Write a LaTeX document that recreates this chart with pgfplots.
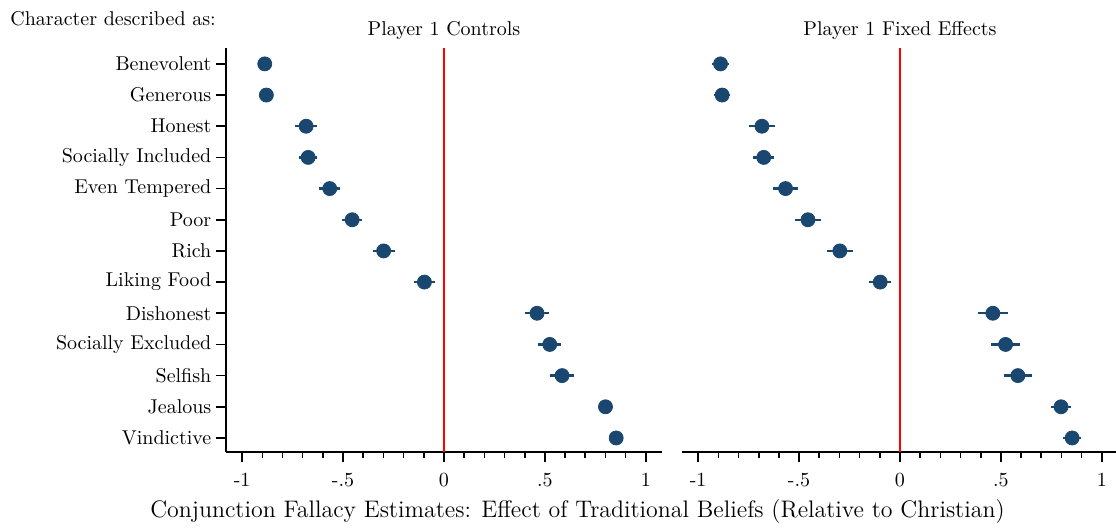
\documentclass[border=0pt]{standalone}
\usepackage{pgfplots}
\pgfplotsset{compat=1.18}
\usepackage{pgfplotstable}
\definecolor{stnavy}{RGB}{26,71,111}

\pgfplotstableread{
y x e
13 -0.888 0.025
12 -0.880 0.025
11 -0.683 0.055
10 -0.673 0.043
9 -0.566 0.052
8 -0.455 0.050
7 -0.299 0.055
6 -0.097 0.050
5 0.461 0.060
4 0.524 0.056
3 0.585 0.058
2 0.800 0.035
1 0.853 0.030
}\leftdata

\pgfplotstableread{
y x e
13 -0.889 0.040
12 -0.881 0.040
11 -0.684 0.066
10 -0.675 0.052
9 -0.567 0.063
8 -0.456 0.063
7 -0.298 0.066
6 -0.098 0.055
5 0.460 0.074
4 0.523 0.070
3 0.584 0.070
2 0.798 0.048
1 0.853 0.044
}\rightdata

\pgfplotsset{
  panel/.style={
    scale only axis,
    width=218pt, height=202pt,
    xmin=-1.08, xmax=1.08,
    ymin=0.55, ymax=13.51,
    axis x line*=bottom,
    axis line style={line width=0.8pt, black},
    xtick={-1,-0.5,0,0.5,1},
    xticklabels={-1,-.5,0,.5,1},
    minor x tick num=4,
    tick align=outside,
    major tick length=5pt,
    minor tick length=2.8pt,
    every tick/.style={black, line width=0.8pt},
    xticklabel style={yshift=-2pt},
    yticklabel style={xshift=1.2pt},
    clip=false,
  },
  ci/.style={only marks, mark=*, mark size=3.5pt, stnavy,
    mark options={fill=stnavy, draw=stnavy},
    error bars/.cd, x dir=both, x explicit,
    error bar style={line width=1.2pt, stnavy}, error mark=none},
}

\begin{document}
\begin{tikzpicture}
\useasboundingbox (-113pt,-37.75pt) rectangle (445pt,226pt);
\begin{axis}[panel, at={(0pt,0pt)},
  axis y line*=left,
  ytick={1,...,13},
  yticklabels={Vindictive,Jealous,Selfish,Socially Excluded,Dishonest,Liking Food,Rich,Poor,Even Tempered,Socially Included,Honest,Generous,Benevolent},
]
\addplot[red, line width=0.7pt] coordinates {(0,0.55) (0,13.51)};
\addplot[ci] table[x=x, y=y, x error=e] {\leftdata};
\end{axis}
\begin{axis}[panel, at={(228pt,0pt)},
  axis y line=none,
  ytick=\empty,
]
\addplot[red, line width=0.7pt] coordinates {(0,0.55) (0,13.51)};
\addplot[ci] table[x=x, y=y, x error=e] {\rightdata};
\end{axis}
\node[anchor=base west, inner sep=0pt] at (-108pt,213pt) {Character described as:};
\node[anchor=base, inner sep=0pt] at (109pt,208pt) {Player 1 Controls};
\node[anchor=base, inner sep=0pt] at (337pt,208pt) {Player 1 Fixed Effects};
\node[anchor=base, inner sep=0pt, font=\fontsize{11.95}{14}\selectfont] at (175.75pt,-33pt) {Conjunction Fallacy Estimates: Effect of Traditional Beliefs (Relative to Christian)};
\end{tikzpicture}
\end{document}
